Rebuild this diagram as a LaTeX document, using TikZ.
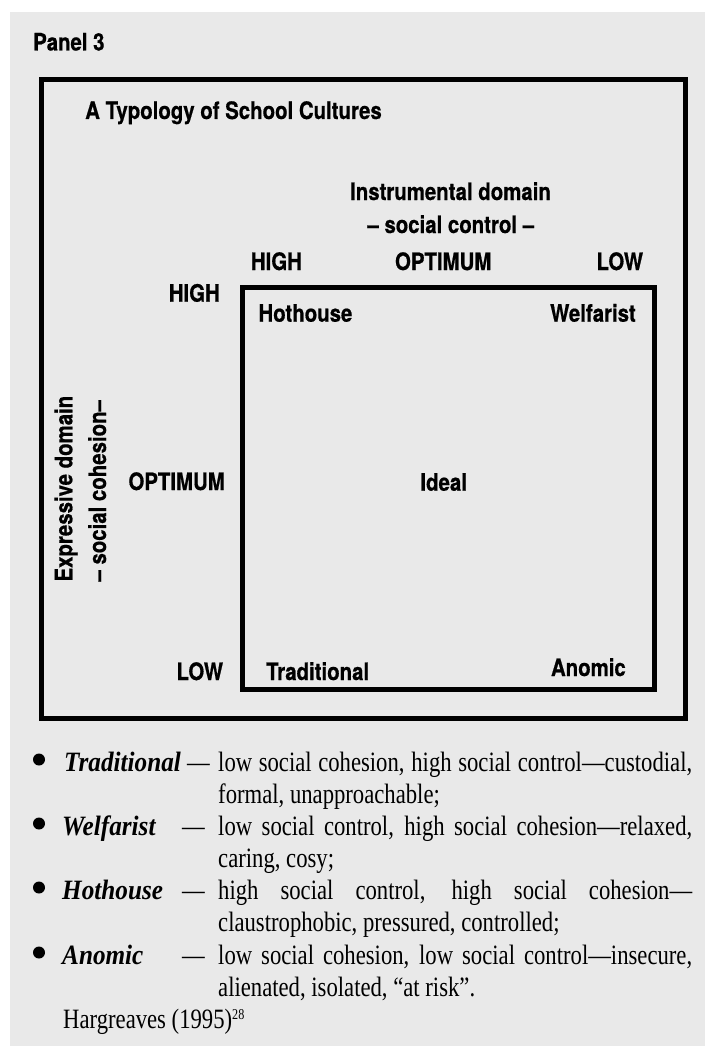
\documentclass[tikz,border=0pt]{standalone}
\usepackage{fontspec}
\newfontfamily\sanc[FakeStretch=0.85, BoldFeatures={FakeBold=0.6}]{TeX Gyre Heros}
\newfontfamily\serifc[FakeStretch=0.81]{Liberation Serif}
\newfontfamily\serifl[FakeStretch=0.9]{Liberation Serif}
\definecolor{panelbg}{RGB}{233,233,233}
\tikzset{
  sans/.style={font=\sanc\bfseries\fontsize{24}{28}\selectfont, inner sep=0pt},
  ser/.style={font=\serifc\fontsize{28}{32}\selectfont, inner sep=0pt},
  lab/.style={font=\serifl\bfseries\itshape\fontsize{28}{32}\selectfont, inner sep=0pt},
  frame/.style={draw=black, line width=5pt},
  bul/.style={circle, fill=black, inner sep=0pt, minimum size=12pt},
}
\begin{document}
\begin{tikzpicture}[x=1pt,y=-1pt]
\useasboundingbox (0,0) rectangle (705,1046);
\fill[white] (0,0) rectangle (705,1046);
\fill[panelbg] (10,12) rectangle (705,1046);
% frames
\draw[frame] (41,79.5) rectangle (685,718.5);
\draw[frame] (242.5,287.5) rectangle (654,689);
% headings
\node[sans, anchor=base west] (panel) at (33,50.5) {Panel 3};
\node[sans, anchor=base west] (title) at (85,119) {A Typology of School Cultures};
\node[sans, anchor=base] (instr) at (450.5,200) {Instrumental domain};
\node[sans, anchor=base] (sctrl) at (450.8,233) {– social control –};
\node[sans, anchor=base west] (thigh) at (250.7,270) {HIGH};
\node[sans, anchor=base] (topt) at (443.2,270) {OPTIMUM};
\node[sans, anchor=base east] (tlow) at (643.3,270) {LOW};
% left axis
\node[sans, anchor=base east] (lhigh) at (220,301.7) {HIGH};
\node[sans, anchor=base east] (lopt) at (225,490) {OPTIMUM};
\node[sans, anchor=base east] (llow) at (223.3,680) {LOW};
\node[sans, rotate=90, anchor=base west] (expr) at (72.3,581.7) {Expressive domain};
\node[sans, rotate=90, anchor=base west] (scoh) at (106,581.7) {– social cohesion–};
% cells
\node[sans, anchor=base west] (hot) at (258.3,321.7) {Hothouse};
\node[sans, anchor=base east] (wel) at (636,321.7) {Welfarist};
\node[sans, anchor=base] (ideal) at (443.7,490.7) {Ideal};
\node[sans, anchor=base west] (trad) at (266,680) {Traditional};
\node[sans, anchor=base east] (anom) at (626,676) {Anomic};
% list
\node[bul] (b1) at (39,759.5) {};
\node[lab, anchor=base west] (l1) at (64,771) {Traditional};
\node[ser, anchor=base west] (d1) at (187,771) {—};
\node[ser, anchor=base west] (t1a) at (218,771) {\makebox[474pt][s]{low social cohesion, high social control—custodial,}};
\node[ser, anchor=base west] (t1b) at (218,803) {formal, unapproachable;};
\node[bul] (b2) at (39,823.5) {};
\node[lab, anchor=base west] (l2) at (62,835) {Welfarist};
\node[ser, anchor=base west] (d2) at (182,835) {—};
\node[ser, anchor=base west] (t2a) at (218,835) {\makebox[474pt][s]{low social control, high social cohesion—relaxed,}};
\node[ser, anchor=base west] (t2b) at (218,867) {caring, cosy;};
\node[bul] (b3) at (39,887.5) {};
\node[lab, anchor=base west] (l3) at (62,899) {Hothouse};
\node[ser, anchor=base west] (d3) at (182,899) {—};
\node[ser, anchor=base west] (t3a) at (218,899) {\makebox[474pt][s]{high social control, high social cohesion—}};
\node[ser, anchor=base west] (t3b) at (218,931) {claustrophobic, pressured, controlled;};
\node[bul] (b4) at (39,952.5) {};
\node[lab, anchor=base west] (l4) at (62,964) {Anomic};
\node[ser, anchor=base west] (d4) at (182,964) {—};
\node[ser, anchor=base west] (t4a) at (218,964) {\makebox[474pt][s]{low social cohesion, low social control—insecure,}};
\node[ser, anchor=base west] (t4b) at (218,996) {alienated, isolated, “at risk”.};
\node[ser, anchor=base west] (src) at (63,1028) {Hargreaves (1995)\raisebox{8.5pt}{\fontsize{15}{15}\selectfont 28}};
\end{tikzpicture}
\end{document}
